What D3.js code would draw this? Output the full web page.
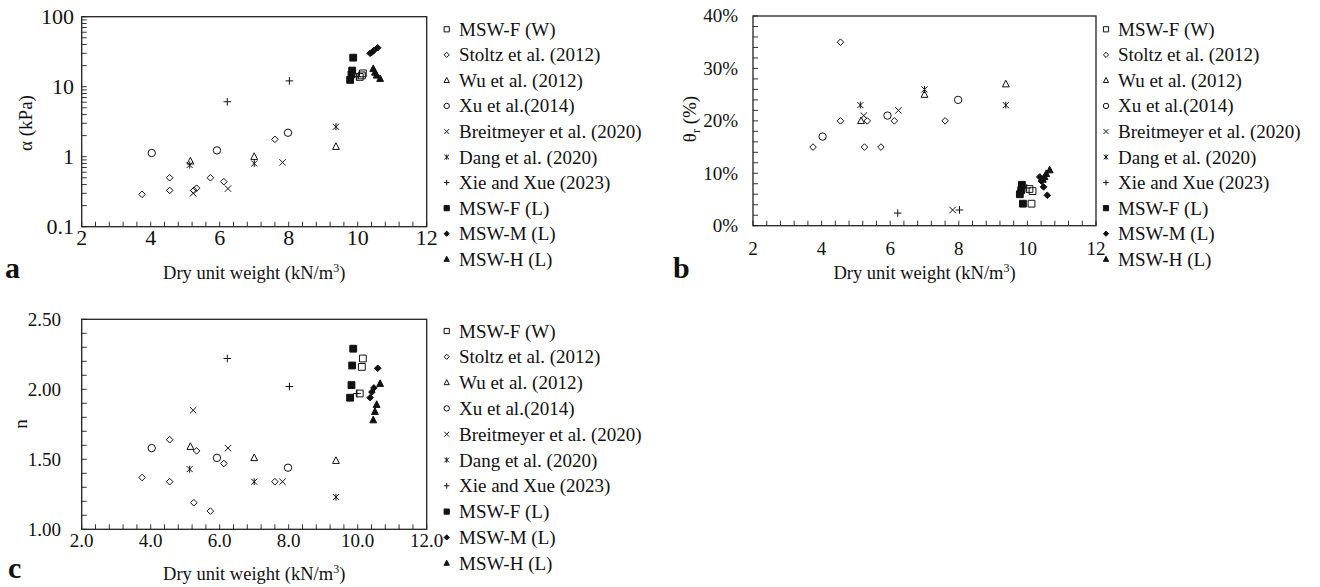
<!DOCTYPE html>
<html>
<head>
<meta charset="utf-8">
<script src="https://cdn.jsdelivr.net/npm/d3@7"></script>
<style>
  body { margin: 0; background: #fff; }
  svg { display: block; }
  text { font-family: "Liberation Serif", "Times New Roman", serif; fill: #111; }
</style>
</head>
<body>
<svg id="fig" width="1320" height="587"></svg>
<script>
// ---- data: dry unit weight (kN/m3) and fitted parameters ----
const seriesNames = ["MSW-F (W)", "Stoltz et al. (2012)", "Wu et al. (2012)", "Xu et al.(2014)",
  "Breitmeyer et al. (2020)", "Dang et al. (2020)", "Xie and Xue (2023)",
  "MSW-F (L)", "MSW-M (L)", "MSW-H (L)"];

const mswFW_x     = [10.15, 10.12, 10.06];
const mswFW_alpha = [15.5, 14.5, 13.8];
const mswFW_theta = [6.6, 4.2, 7.0];
const mswFW_n     = [2.22, 2.16, 1.97];

const stoltz_x     = [3.75, 4.55, 4.55, 5.25, 5.33, 5.73, 6.12, 7.6];
const stoltz_alpha = [0.29, 0.50, 0.33, 0.33, 0.355, 0.50, 0.44, 1.77];
const stoltz_theta = [15, 35, 20, 15, 20, 15, 20, 20];
const stoltz_n     = [1.37, 1.64, 1.34, 1.19, 1.56, 1.13, 1.47, 1.34];

const wu_x     = [5.15, 7.0, 9.37];
const wu_alpha = [0.86, 1.0, 1.39];
const wu_theta = [20, 25, 27];
const wu_n     = [1.59, 1.51, 1.49];

const xu_x     = [4.03, 5.92, 7.98];
const xu_alpha = [1.13, 1.23, 2.2];
const xu_theta = [17, 21, 24];
const xu_n     = [1.58, 1.51, 1.44];

const breit_x     = [5.23, 6.24, 7.82];
const breit_alpha = [0.30, 0.35, 0.83];
const breit_theta = [21, 22, 3];
const breit_n     = [1.85, 1.58, 1.34];

const dang_x     = [5.13, 7.0, 9.37];
const dang_alpha = [0.76, 0.80, 2.68];
const dang_theta = [23, 26, 23];
const dang_n     = [1.43, 1.34, 1.23];

const xie_x     = [6.22, 8.02, 9.98];
const xie_alpha = [6.1, 12.1, 13.9];
const xie_theta = [2.4, 3.0, 7.2];
const xie_n     = [2.22, 2.02, 1.97];

const mswFL_x     = [9.87, 9.84, 9.82, 9.78];
const mswFL_alpha = [26, 17, 15, 12.5];
const mswFL_theta = [4.2, 7.8, 6.8, 6.0];
const mswFL_n     = [2.29, 2.17, 2.03, 1.94];

const mswM_x     = [10.58, 10.47, 10.41, 10.36];
const mswM_alpha = [36, 33, 31, 30];
const mswM_theta = [5.8, 7.4, 8.5, 9.3];
const mswM_n     = [2.15, 2.01, 1.98, 1.94];

const mswH_x     = [10.65, 10.55, 10.5, 10.45];
const mswH_alpha = [13, 14.5, 16, 18];
const mswH_theta = [10.6, 9.9, 9.3, 8.8];
const mswH_n     = [2.04, 1.89, 1.84, 1.78];

// tick labels
const xTickLabelsInt = ["2", "4", "6", "8", "10", "12"];
const xTickLabelsDec = ["2.0", "4.0", "6.0", "8.0", "10.0", "12.0"];
const alphaTickLabels = ["0.1", "1", "10", "100"];
const thetaTickLabels = ["0%", "10%", "20%", "30%", "40%"];
const nTickLabels = ["1.00", "1.50", "2.00", "2.50"];

// ---- series table ----
const shapes = ["square", "diamond", "triangle", "circle", "x", "star", "plus", "square", "diamond", "triangle"];
const filled = [false, false, false, false, false, false, false, true, true, true];
const xs = [mswFW_x, stoltz_x, wu_x, xu_x, breit_x, dang_x, xie_x, mswFL_x, mswM_x, mswH_x];
const alphas = [mswFW_alpha, stoltz_alpha, wu_alpha, xu_alpha, breit_alpha, dang_alpha, xie_alpha, mswFL_alpha, mswM_alpha, mswH_alpha];
const thetas = [mswFW_theta, stoltz_theta, wu_theta, xu_theta, breit_theta, dang_theta, xie_theta, mswFL_theta, mswM_theta, mswH_theta];
const ns = [mswFW_n, stoltz_n, wu_n, xu_n, breit_n, dang_n, xie_n, mswFL_n, mswM_n, mswH_n];

const INK = "#111";

function markerPath(shape, r) {
  switch (shape) {
    case "square":   return `M${-r},${-r}H${r}V${r}H${-r}Z`;
    case "diamond":  return `M0,${-r}L${r},0L0,${r}L${-r},0Z`;
    case "triangle": return `M0,${-r * 1.15}L${r},${r * 0.8}L${-r},${r * 0.8}Z`;
    case "circle":   return d3.symbol(d3.symbolCircle, Math.PI * r * r)();
    case "x":        return `M${-r},${-r}L${r},${r}M${r},${-r}L${-r},${r}`;
    case "star":     return `M${-r},${-r}L${r},${r}M${r},${-r}L${-r},${r}M0,${-r * 1.15}V${r * 1.15}`;
    case "plus":     return `M${-r},0H${r}M0,${-r}V${r}`;
  }
}
const plotR = { square: 3.4, diamond: 3.3, triangle: 3.4, circle: 3.7, x: 3.2, star: 3.0, plus: 3.8 };
const legR  = { square: 2.6, diamond: 2.6, triangle: 2.6, circle: 2.7, x: 2.4, star: 2.3, plus: 2.8 };

const svg = d3.select("#fig");

function drawPanel(cfg) {
  const g = svg.append("g");
  const x = d3.scaleLinear().domain([2, 12]).range([cfg.x0, cfg.x1]);
  const y = cfg.y;

  // inner minor ticks along x (every 0.4)
  const xt = d3.range(0, 26).map(i => 2 + i * 0.4);
  g.append("g").selectAll("line").data(xt).join("line")
    .attr("x1", d => x(d)).attr("x2", d => x(d))
    .attr("y1", cfg.y1).attr("y2", cfg.y1 - 5)
    .attr("stroke", "#333").attr("stroke-width", 1);
  // inner ticks along y
  g.append("g").selectAll("line").data(cfg.yTicks).join("line")
    .attr("x1", cfg.x0).attr("x2", cfg.x0 + 5)
    .attr("y1", d => y(d)).attr("y2", d => y(d))
    .attr("stroke", "#333").attr("stroke-width", 1);

  // frame
  g.append("rect").attr("x", cfg.x0).attr("y", cfg.y0)
    .attr("width", cfg.x1 - cfg.x0).attr("height", cfg.y1 - cfg.y0)
    .attr("fill", "none").attr("stroke", "#222").attr("stroke-width", 1.3);

  // x tick labels
  g.append("g").selectAll("text").data(cfg.xLabels).join("text")
    .attr("x", (d, i) => x(2 + 2 * i)).attr("y", cfg.xLabelY)
    .attr("text-anchor", "middle").attr("font-size", cfg.tickFont).text(d => d);
  // y tick labels
  g.append("g").selectAll("text").data(cfg.yLabels).join("text")
    .attr("x", cfg.yLabelX).attr("y", (d, i) => y(cfg.yLabelVals[i]) + cfg.tickFont * 0.34)
    .attr("text-anchor", "end").attr("font-size", cfg.tickFont).text(d => d);

  // x title
  const xt2 = g.append("text").attr("x", (cfg.x0 + cfg.x1) / 2).attr("y", cfg.titleY)
    .attr("text-anchor", "middle").attr("font-size", 18.5);
  xt2.append("tspan").text("Dry unit weight (kN/m");
  xt2.append("tspan").attr("font-size", 12).attr("dy", -7).text("3");
  xt2.append("tspan").attr("dy", 7).text(")");

  // y title
  const yt = g.append("text")
    .attr("transform", `translate(${cfg.yTitleX},${cfg.yTitleY}) rotate(-90)`)
    .attr("text-anchor", "middle").attr("font-size", 19);
  cfg.yTitle(yt);

  // panel letter
  g.append("text").attr("x", cfg.letterX).attr("y", cfg.letterY)
    .attr("font-size", 30).attr("font-weight", "bold").text(cfg.letter);

  // points
  const pts = g.append("g");
  shapes.forEach((s, si) => {
    const vals = cfg.values[si];
    pts.append("g").selectAll("path").data(xs[si].map((v, i) => [v, vals[i]])).join("path")
      .attr("transform", d => `translate(${x(d[0])},${y(d[1])})`)
      .attr("d", markerPath(s, plotR[s]))
      .attr("fill", filled[si] ? INK : "none")
      .attr("stroke", INK).attr("stroke-width", 1);
  });

  // legend
  const lg = g.append("g");
  seriesNames.forEach((name, i) => {
    const cy = cfg.legY0 + i * cfg.legDy;
    const s = shapes[i];
    lg.append("path").attr("transform", `translate(${cfg.legMarkX},${cy})`)
      .attr("d", markerPath(s, legR[s]))
      .attr("fill", filled[i] ? INK : "none").attr("stroke", INK).attr("stroke-width", 1);
    lg.append("text").attr("x", cfg.legTextX).attr("y", cy + 6.5)
      .attr("font-size", 19).text(name);
  });
}

// panel a: alpha (log scale)
const yA = d3.scaleLog().domain([0.1, 100]).range([226.7, 16.7]);
const alphaMinor = [];
[0.1, 1, 10].forEach(dec => { for (let k = 1; k <= 9; k++) alphaMinor.push(k * dec); });
alphaMinor.push(100);
drawPanel({
  x0: 81.7, x1: 426.7, y0: 16.7, y1: 226.7, y: yA, yTicks: alphaMinor,
  xLabels: xTickLabelsInt, xLabelY: 245, tickFont: 22,
  yLabels: alphaTickLabels, yLabelVals: [0.1, 1, 10, 100], yLabelX: 74,
  titleY: 279, yTitleX: 32, yTitleY: 123,
  yTitle: t => t.text("\u03B1 (kPa)"),
  letter: "a", letterX: 5, letterY: 278,
  values: alphas,
  legMarkX: 446.7, legTextX: 459, legY0: 29.3, legDy: 25.55
});

// panel b: residual water content (%)
const yB = d3.scaleLinear().domain([0, 40]).range([225.7, 16]);
drawPanel({
  x0: 753, x1: 1096, y0: 16, y1: 225.7, y: yB, yTicks: d3.range(0, 41, 2),
  xLabels: xTickLabelsInt, xLabelY: 255, tickFont: 19,
  yLabels: thetaTickLabels, yLabelVals: [0, 10, 20, 30, 40], yLabelX: 738,
  titleY: 279, yTitleX: 696, yTitleY: 119,
  yTitle: t => { t.append("tspan").text("\u03B8"); t.append("tspan").attr("font-size", 12).attr("dy", 4).text("r"); t.append("tspan").attr("dy", -4).text(" (%)"); },
  letter: "b", letterX: 673, letterY: 278,
  values: thetas,
  legMarkX: 1106, legTextX: 1118, legY0: 29.3, legDy: 25.55
});

// panel c: n parameter
const yC = d3.scaleLinear().domain([1, 2.5]).range([529.3, 319.3]);
drawPanel({
  x0: 81.7, x1: 426.7, y0: 319.3, y1: 529.3, y: yC, yTicks: d3.range(0, 16).map(i => 1 + i * 0.1),
  xLabels: xTickLabelsDec, xLabelY: 547, tickFont: 19,
  yLabels: nTickLabels, yLabelVals: [1, 1.5, 2, 2.5], yLabelX: 61,
  titleY: 580, yTitleX: 27, yTitleY: 424,
  yTitle: t => t.text("n"),
  letter: "c", letterX: 8, letterY: 578,
  values: ns,
  legMarkX: 446.7, legTextX: 459, legY0: 331, legDy: 25.8
});
</script>
</body>
</html>
